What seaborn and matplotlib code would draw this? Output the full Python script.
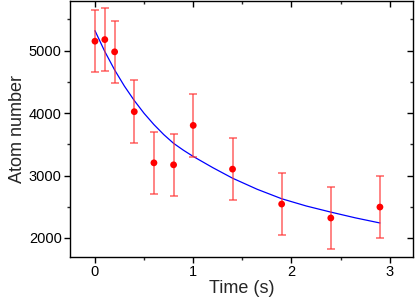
import matplotlib

matplotlib.use("Agg")

import matplotlib.pyplot as plt
import pandas as pd
import seaborn as sns
from matplotlib.ticker import MultipleLocator

# measured atom numbers vs hold time
time_s = [0.0, 0.1, 0.2, 0.4, 0.6, 0.8, 1.0, 1.4, 1.9, 2.4, 2.9]
atom_number = [5150, 5176, 4980, 4022, 3203, 3171, 3802, 3102, 2543, 2320, 2495]
atom_err = [500, 500, 500, 500, 500, 500, 500, 500, 500, 500, 500]

# fit curve
fit_t = [0.0, 0.1, 0.2, 0.3, 0.4, 0.5, 0.6, 0.7, 0.8, 0.9, 1.0, 1.2, 1.4,
         1.65, 1.9, 2.15, 2.4, 2.65, 2.9]
fit_n = [5319, 4985, 4690, 4430, 4200, 3995, 3815, 3655, 3515, 3405, 3305, 3125, 2957,
         2780, 2628, 2512, 2414, 2322, 2240]

x_ticks = [0, 1, 2, 3]
y_ticks = [2000, 3000, 4000, 5000]

sns.set_theme(style="ticks")
plt.rcParams["font.family"] = ["Liberation Sans", "DejaVu Sans"]

data = pd.DataFrame({"time": time_s, "atoms": atom_number, "err": atom_err})
fit = pd.DataFrame({"time": fit_t, "atoms": fit_n})

fig = plt.figure(figsize=(4.15, 3.0), dpi=100)
ax = fig.add_axes([0.1687, 0.1443, 0.8273, 0.8537])

sns.lineplot(data=fit, x="time", y="atoms", color="#0000ff", linewidth=0.9, ax=ax, zorder=2)
ax.errorbar(data["time"], data["atoms"], yerr=data["err"], fmt="none",
            ecolor="#ff3030", alpha=0.75, elinewidth=1.1, capsize=3, capthick=1.1, zorder=3)
sns.scatterplot(data=data, x="time", y="atoms", color="#ff0000", s=24,
                edgecolor="none", ax=ax, zorder=4)

ax.set_xlim(-0.254, 3.24)
ax.set_ylim(1700, 5800)
ax.set_xticks(x_ticks)
ax.set_yticks(y_ticks)
ax.xaxis.set_minor_locator(MultipleLocator(0.5))
ax.yaxis.set_minor_locator(MultipleLocator(500))

for side in ["left", "right", "top", "bottom"]:
    ax.spines[side].set_visible(True)
    ax.spines[side].set_linewidth(1.0)
    ax.spines[side].set_color("black")

ax.tick_params(axis="both", which="major", direction="out", length=4, width=1,
               labelsize=10.5, colors="black", pad=2)
ax.tick_params(axis="both", which="minor", direction="out", length=2, width=1)
ax.tick_params(axis="x", which="both", top=True)
ax.tick_params(axis="y", which="both", right=True)
# mirrored ticks on top/right point inward
for t in ax.xaxis.get_major_ticks() + ax.xaxis.get_minor_ticks():
    t.tick2line.set_marker(matplotlib.lines.TICKDOWN)
for t in ax.yaxis.get_major_ticks() + ax.yaxis.get_minor_ticks():
    t.tick2line.set_marker(matplotlib.lines.TICKLEFT)

ax.set_xlabel("Time (s)", fontsize=13, labelpad=1)
ax.set_ylabel("Atom number", fontsize=13, labelpad=2)

fig.savefig("out.png", dpi=100)
